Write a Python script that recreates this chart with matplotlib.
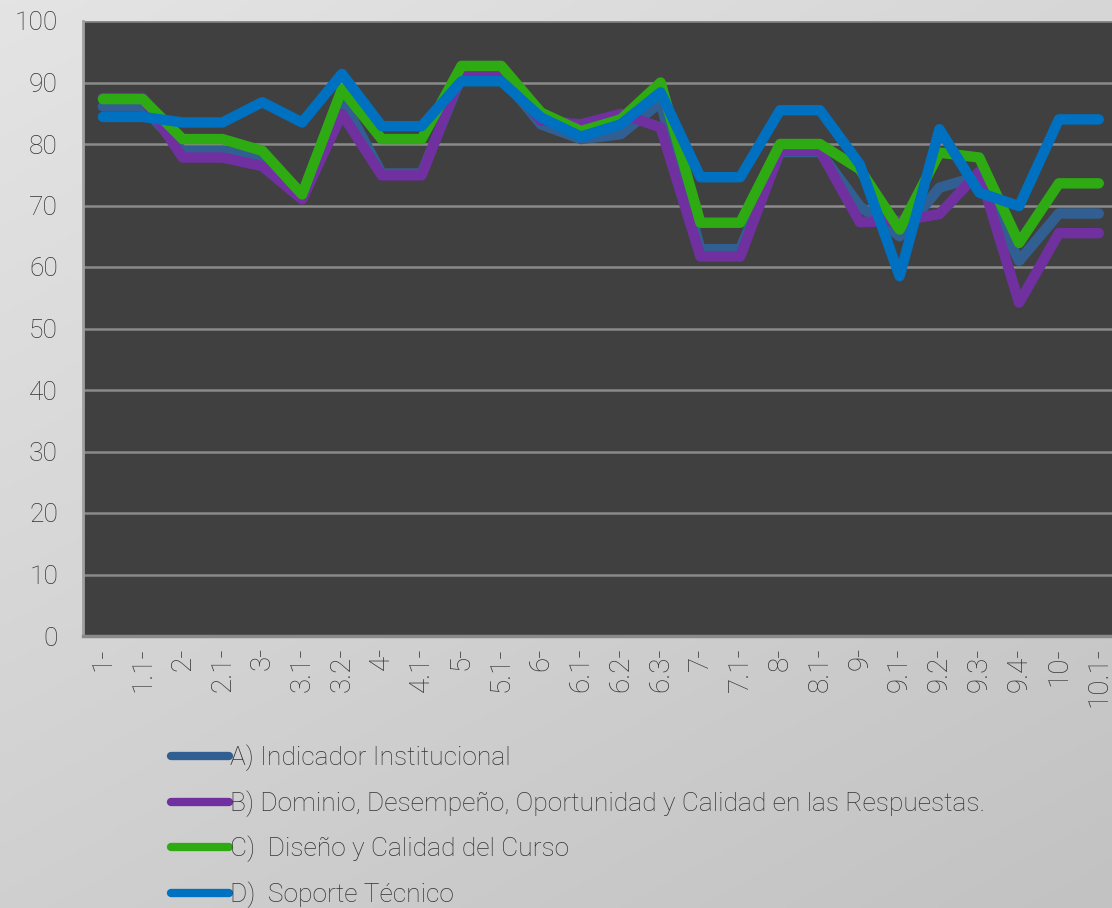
import matplotlib
matplotlib.use("Agg")
import matplotlib.pyplot as plt
from matplotlib.colors import LinearSegmentedColormap
import numpy as np

categories = ["1-", "1.1-", "2-", "2.1-", "3-", "3.1-", "3.2-", "4-", "4.1-", "5-",
              "5.1-", "6-", "6.1-", "6.2-", "6.3-", "7-", "7.1-", "8-", "8.1-", "9-",
              "9.1-", "9.2-", "9.3-", "9.4-", "10-", "10.1-"]

serie_a = [86.1, 86.1, 78.9, 78.9, 77.8, 71.2, 87.3, 75.2, 75.2, 91.0,
           91.0, 83.2, 80.8, 81.6, 86.8, 62.9, 62.9, 78.7, 78.7, 69.9,
           65.0, 72.9, 74.8, 61.0, 68.7, 68.7]
serie_b = [87.5, 87.5, 77.8, 77.8, 76.4, 71.0, 84.9, 74.9, 74.9, 91.4,
           91.4, 83.8, 83.2, 84.9, 82.7, 61.7, 61.7, 78.9, 78.9, 67.3,
           67.5, 68.6, 75.5, 54.2, 65.5, 65.5]
serie_c = [87.3, 87.3, 80.8, 80.8, 78.9, 71.8, 88.9, 80.8, 80.8, 92.7,
           92.7, 85.1, 82.1, 84.0, 90.0, 67.2, 67.2, 80.0, 80.0, 75.9,
           66.1, 78.6, 77.8, 63.9, 73.6, 73.6]
serie_d = [84.4, 84.4, 83.5, 83.5, 86.8, 83.5, 91.4, 82.9, 82.9, 90.2,
           90.2, 84.3, 81.2, 83.2, 88.4, 74.6, 74.6, 85.5, 85.5, 76.7,
           58.5, 82.4, 72.1, 69.9, 84.0, 84.0]

labels = ["A) Indicador Institucional",
          "B) Dominio, Desempeño, Oportunidad y Calidad en las Respuestas.",
          "C)  Diseño y Calidad del Curso",
          "D)  Soporte Técnico"]
colors = ["#325f91", "#7030a0", "#2eab13", "#0070c0"]

plt.rcParams['font.family'] = ['Roboto', 'DejaVu Sans']
plt.rcParams['font.weight'] = 'light'

fig = plt.figure(figsize=(11.12, 9.08), dpi=100)

# light gray gradient background
bg = fig.add_axes([0, 0, 1, 1], zorder=-10)
grad = np.linspace(0, 1, 256).reshape(-1, 1) * 0.6 + np.linspace(0, 1, 256).reshape(1, -1) * 0.4
bg.imshow(grad, cmap=LinearSegmentedColormap.from_list("g", ["#e4e4e4", "#c2c2c2"]),
          aspect="auto", extent=[0, 1, 0, 1], origin="upper")
bg.axis("off")

ax = fig.add_axes([83 / 1112, 1 - 636 / 908, 1 - 83 / 1112 + 0.006, (636 - 21) / 908])
ax.set_facecolor("#404040")

x = np.arange(len(categories))
for s, lab, col in zip([serie_a, serie_b, serie_c, serie_d], labels, colors):
    ax.plot(x, s, color=col, lw=7.5, label=lab, solid_capstyle="round", solid_joinstyle="round")

ax.set_xlim(-0.5, len(categories) - 0.5)
ax.set_ylim(0, 100)
ax.set_yticks(np.arange(0, 101, 10))
ax.yaxis.grid(True, color="#8a8a8a", lw=1.8)
ax.set_axisbelow(True)
ax.set_xticks(x)
ax.set_xticklabels(categories, rotation=90)
ax.tick_params(length=0, colors="#333333")
ax.tick_params(axis="y", pad=18, labelsize=19)
ax.tick_params(axis="x", pad=8, labelsize=20)
for sp in ["top", "right"]:
    ax.spines[sp].set_visible(False)
ax.spines["left"].set_color("#a0a0a0")
ax.spines["left"].set_linewidth(2)
ax.spines["bottom"].set_color("#8a8a8a")
ax.spines["bottom"].set_linewidth(2.5)

handles, labs = ax.get_legend_handles_labels()
leg = fig.legend(handles, labs, loc="upper left", bbox_to_anchor=(160 / 1112, 1 - 734 / 908),
                 frameon=False, fontsize=19, handlelength=2.2, handletextpad=0.05,
                 labelspacing=0.72, borderaxespad=0)
for h in leg.get_lines():
    h.set_linewidth(6)
for t in leg.get_texts():
    t.set_color("#333333")

fig.savefig("out.png", dpi=100)
